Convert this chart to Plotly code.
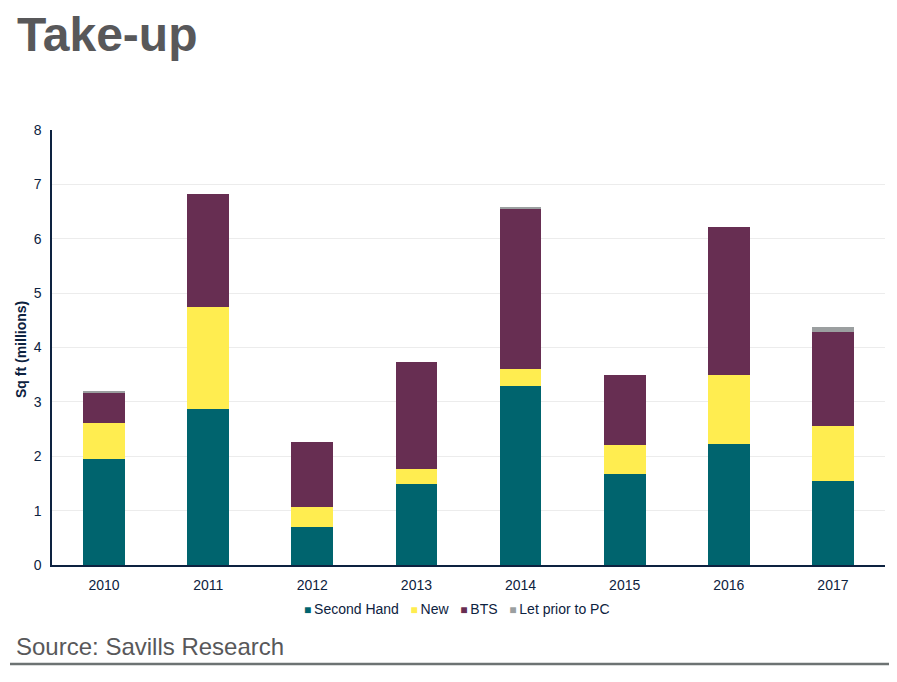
import plotly.graph_objects as go

years = ["2010", "2011", "2012", "2013", "2014", "2015", "2016", "2017"]
second_hand = [1.95, 2.87, 0.70, 1.49, 3.30, 1.68, 2.23, 1.54]
new = [0.66, 1.87, 0.37, 0.28, 0.30, 0.52, 1.27, 1.02]
bts = [0.57, 2.09, 1.20, 1.97, 2.96, 1.29, 2.72, 1.72]
let_prior = [0.01, 0.0, 0.0, 0.0, 0.01, 0.0, 0.0, 0.10]

series = [
    ("Second Hand", second_hand, "#00646E"),
    ("New", new, "#FFED50"),
    ("BTS", bts, "#672E52"),
    ("Let prior to PC", let_prior, "#9B9FA0"),
]

navy = "#0D2240"
FONT = "Liberation Sans, Arial, sans-serif"
# page is offset by the 8px body margin, so compensate
OFF = 8
W, H = 897, 682
L, T = 52 - OFF, 130 - OFF
PW, PH = 833, 435
R = W - L - PW
B = H - T - PH

fig = go.Figure()
for name, vals, col in series:
    fig.add_trace(go.Bar(x=years, y=vals, name=name, marker_color=col,
                         marker_line_width=0, width=0.4, showlegend=False))

def px_x(px):
    return (px - OFF - L) / PW
def px_y(py):
    return (H - B - (py - OFF)) / PH

legend_html = "&nbsp;&nbsp;&nbsp;".join(
    f"<span style='color:{col};font-size:12px'>■</span>&#8201;{name}" for name, _, col in series)

fig.update_layout(
    width=W, height=H,
    barmode="stack",
    plot_bgcolor="white", paper_bgcolor="white",
    margin=dict(l=L, r=R, t=T, b=B, autoexpand=False),
    font=dict(family=FONT, color=navy, size=14),
    showlegend=False,
    xaxis=dict(showline=True, linecolor=navy, linewidth=1.5, ticks="",
               ticklabelstandoff=6, automargin=False,
               tickfont=dict(size=14, color=navy)),
    yaxis=dict(range=[0, 8], dtick=1, showline=True, linecolor=navy, linewidth=1.5,
               showgrid=True, gridcolor="#ECECEC", gridwidth=1, zeroline=False,
               automargin=False,
               tickfont=dict(size=14, color=navy), ticks="", ticklabelstandoff=6),
    annotations=[
        dict(text="<b>Take-up</b>", x=px_x(15), y=px_y(6), xref="paper", yref="paper",
             xanchor="left", yanchor="top", showarrow=False,
             font=dict(size=48, color="#58585A", family=FONT)),
        dict(text="<b>Sq ft (millions)</b>", x=px_x(21), y=px_y(350),
             xref="paper", yref="paper", xanchor="center", yanchor="middle",
             textangle=-90, showarrow=False,
             font=dict(size=14, color=navy, family=FONT)),
        dict(text="Source: Savills Research", x=px_x(14), y=px_y(631),
             xref="paper", yref="paper", xanchor="left", yanchor="top",
             showarrow=False, font=dict(size=24, color="#58585A", family=FONT)),
        dict(text=legend_html, x=px_x(457), y=px_y(609), xref="paper", yref="paper",
             xanchor="center", yanchor="middle", showarrow=False,
             font=dict(size=14, color=navy, family=FONT)),
    ],
)
fig.add_shape(type="line", xref="paper", yref="paper",
              x0=px_x(10), x1=px_x(905), y0=px_y(664), y1=px_y(664),
              line=dict(color="#6D7373", width=2.5))

fig.write_html("out.html")
